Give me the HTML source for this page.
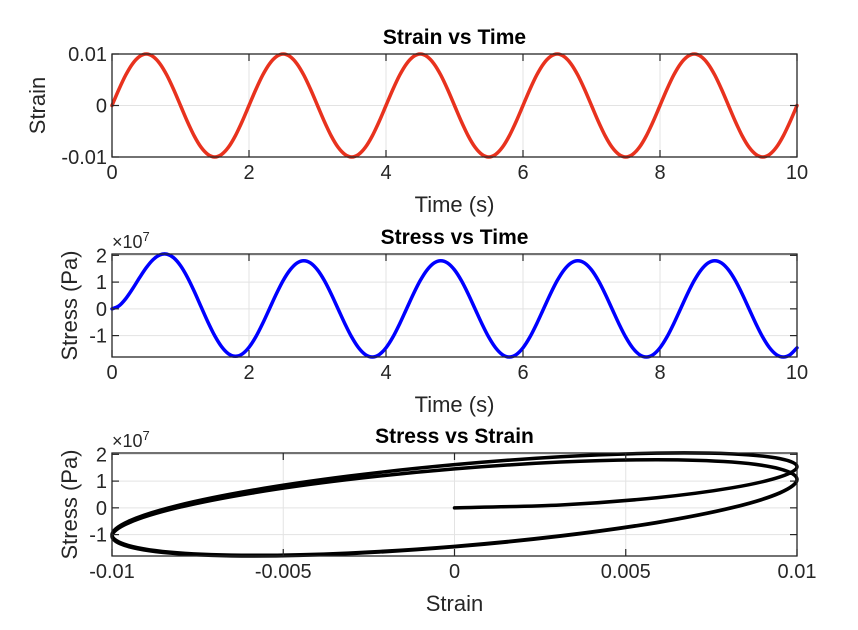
<!DOCTYPE html>
<html><head><meta charset="utf-8"><style>
html,body{margin:0;padding:0;background:#fff;}
svg{display:block;font-family:"Liberation Sans",Arial,sans-serif;}
</style></head><body>
<svg id="fig" width="858" height="630" viewBox="0 0 858 630" xmlns="http://www.w3.org/2000/svg"></svg>
<script>
const strainVals = [
0,0.0031,0.0059,0.0081,0.0095,0.01,0.0095,0.0081,0.0059,0.0031,0,-0.0031,-0.0059,-0.0081,-0.0095,-0.01,-0.0095,-0.0081,-0.0059,-0.0031,
0,0.0031,0.0059,0.0081,0.0095,0.01,0.0095,0.0081,0.0059,0.0031,0,-0.0031,-0.0059,-0.0081,-0.0095,-0.01,-0.0095,-0.0081,-0.0059,-0.0031,
0,0.0031,0.0059,0.0081,0.0095,0.01,0.0095,0.0081,0.0059,0.0031,0,-0.0031,-0.0059,-0.0081,-0.0095,-0.01,-0.0095,-0.0081,-0.0059,-0.0031,
0,0.0031,0.0059,0.0081,0.0095,0.01,0.0095,0.0081,0.0059,0.0031,0,-0.0031,-0.0059,-0.0081,-0.0095,-0.01,-0.0095,-0.0081,-0.0059,-0.0031,
0,0.0031,0.0059,0.0081,0.0095,0.01,0.0095,0.0081,0.0059,0.0031,0,-0.0031,-0.0059,-0.0081,-0.0095,-0.01,-0.0095,-0.0081,-0.0059,-0.0031,
0];
const stressVals = [
0,0.108,0.378,0.748,1.155,1.537,1.840,2.019,2.046,1.909,1.614,1.184,0.657,0.081,-0.491,-1.006,-1.414,-1.679,-1.773,-1.691,-1.439,-1.045,-0.545,0.009,0.563,1.064,
1.456,1.712,1.8,1.712,1.456,1.058,0.556,0,-0.556,-1.058,-1.456,-1.712,-1.8,-1.712,-1.456,-1.058,-0.556,0,0.556,1.058,
1.456,1.712,1.8,1.712,1.456,1.058,0.556,0,-0.556,-1.058,-1.456,-1.712,-1.8,-1.712,-1.456,-1.058,-0.556,0,0.556,1.058,
1.456,1.712,1.8,1.712,1.456,1.058,0.556,0,-0.556,-1.058,-1.456,-1.712,-1.8,-1.712,-1.456,-1.058,-0.556,0,0.556,1.058,
1.456,1.712,1.8,1.712,1.456,1.058,0.556,0,-0.556,-1.058,-1.456,-1.712,-1.8,-1.712,-1.456];
const timeStep = 0.1;
const timeTicks = [0,2,4,6,8,10];
const timeTickLabels = ["0","2","4","6","8","10"];
const strainTicks = [-0.01,0,0.01];
const strainTickLabels = ["-0.01","0","0.01"];
const strainXTicks = [-0.01,-0.005,0,0.005,0.01];
const strainXTickLabels = ["-0.01","-0.005","0","0.005","0.01"];
const stressTicks = [-1,0,1,2];
const stressTickLabels = ["-1","0","1","2"];

const NS="http://www.w3.org/2000/svg";
const fig=document.getElementById('fig');
function mk(tag,attrs,parent){const e=document.createElementNS(NS,tag);for(const k in attrs)e.setAttribute(k,attrs[k]);(parent||fig).appendChild(e);return e;}
function txt(s,attrs,parent){const e=mk('text',attrs,parent);e.textContent=s;return e;}

function smoothPath(pts){
  let d='M'+pts[0][0].toFixed(2)+','+pts[0][1].toFixed(2);
  for(let i=0;i<pts.length-1;i++){
    const p0=pts[Math.max(0,i-1)],p1=pts[i],p2=pts[i+1],p3=pts[Math.min(pts.length-1,i+2)];
    const c1=[p1[0]+(p2[0]-p0[0])/6,p1[1]+(p2[1]-p0[1])/6];
    const c2=[p2[0]-(p3[0]-p1[0])/6,p2[1]-(p3[1]-p1[1])/6];
    d+=' C'+c1[0].toFixed(2)+','+c1[1].toFixed(2)+' '+c2[0].toFixed(2)+','+c2[1].toFixed(2)+' '+p2[0].toFixed(2)+','+p2[1].toFixed(2);
  }
  return d;
}

function axes(cfg){
  const g=mk('g',{});
  
  
  const L=112,R=797,T=cfg.top,B=cfg.bottom;
  const sx=v=>L+(v-cfg.xmin)/(cfg.xmax-cfg.xmin)*(R-L);
  const sy=v=>B-(v-cfg.ymin)/(cfg.ymax-cfg.ymin)*(B-T);
  mk('rect',{x:L,y:T,width:R-L,height:B-T,fill:'#fff'},g);
  const grid=mk('g',{stroke:'#e3e3e3','stroke-width':1},g);
  
  
  cfg.xt.forEach(v=>mk('line',{x1:sx(v),x2:sx(v),y1:T,y2:B},grid));
  cfg.yt.forEach(v=>mk('line',{x1:L,x2:R,y1:sy(v),y2:sy(v)},grid));
  const pts=cfg.xs.map((x,i)=>[sx(x),sy(cfg.ys[i])]);
  const p=mk('path',{d:smoothPath(pts),fill:'none',stroke:cfg.color,'stroke-width':3.5,'stroke-linejoin':'round','stroke-linecap':'round'},g);
  
  
  mk('rect',{x:L,y:T,width:R-L,height:B-T,fill:'none',stroke:'#262626','stroke-width':1.3},g);
  const ticks=mk('g',{stroke:'#262626','stroke-width':1.2},g);
  cfg.xt.forEach(v=>{mk('line',{x1:sx(v),x2:sx(v),y1:B,y2:B-7},ticks);mk('line',{x1:sx(v),x2:sx(v),y1:T,y2:T+7},ticks);});
  cfg.yt.forEach(v=>{mk('line',{x1:L,x2:L+7,y1:sy(v),y2:sy(v)},ticks);mk('line',{x1:R,x2:R-7,y1:sy(v),y2:sy(v)},ticks);});
  cfg.xt.forEach((v,i)=>{const t=txt(cfg.xl[i],{x:sx(v),y:B+22,'text-anchor':'middle','font-size':20,fill:'#262626'},g);});
  cfg.yt.forEach((v,i)=>{const t=txt(cfg.yl[i],{x:L-5,y:sy(v)+7,'text-anchor':'end','font-size':20,fill:'#262626'},g);});
  const ti=txt(cfg.title,{x:(L+R)/2,y:T-10,'text-anchor':'middle','font-size':21,'font-weight':'bold',fill:'#000'},g);
  
  const xa=txt(cfg.xlabel,{x:(L+R)/2,y:B+55,'text-anchor':'middle','font-size':22,fill:'#262626'},g);
  
  const cy=(T+B)/2;
  const ya=txt(cfg.ylabel,{x:0,y:0,'text-anchor':'middle','font-size':22,fill:'#262626',transform:'translate('+cfg.ylabelX+','+cy+') rotate(-90)'},g);
  
  if(cfg.exp){
    const e=mk('text',{x:L,y:T-6,'font-size':18,fill:'#262626'},g);
    e.textContent='×10';
    const s=mk('tspan',{dy:-7,'font-size':13},e);s.textContent='7';
    
  }
}
const times=strainVals.map((_,i)=>i*timeStep);
axes({name:'strain-vs-time-axes',seriesName:'strain-line',top:54,bottom:157,xmin:0,xmax:10,ymin:-0.01,ymax:0.01,
  xt:timeTicks,xl:timeTickLabels,yt:strainTicks,yl:strainTickLabels,xs:times,ys:strainVals,color:'#e8321e',
  title:'Strain vs Time',xlabel:'Time (s)',ylabel:'Strain',ylabelX:45});
axes({name:'stress-vs-time-axes',seriesName:'stress-line',top:254,bottom:357,xmin:0,xmax:10,ymin:-1.8,ymax:2.05,
  xt:timeTicks,xl:timeTickLabels,yt:stressTicks,yl:stressTickLabels,xs:times,ys:stressVals,color:'#0000ff',
  title:'Stress vs Time',xlabel:'Time (s)',ylabel:'Stress (Pa)',ylabelX:77,exp:true});
axes({name:'stress-vs-strain-axes',seriesName:'hysteresis-loop',top:453,bottom:556,xmin:-0.01,xmax:0.01,ymin:-1.8,ymax:2.05,
  xt:strainXTicks,xl:strainXTickLabels,yt:stressTicks,yl:stressTickLabels,xs:strainVals,ys:stressVals,color:'#000000',
  title:'Stress vs Strain',xlabel:'Strain',ylabel:'Stress (Pa)',ylabelX:77,exp:true});
</script>
</body></html>
